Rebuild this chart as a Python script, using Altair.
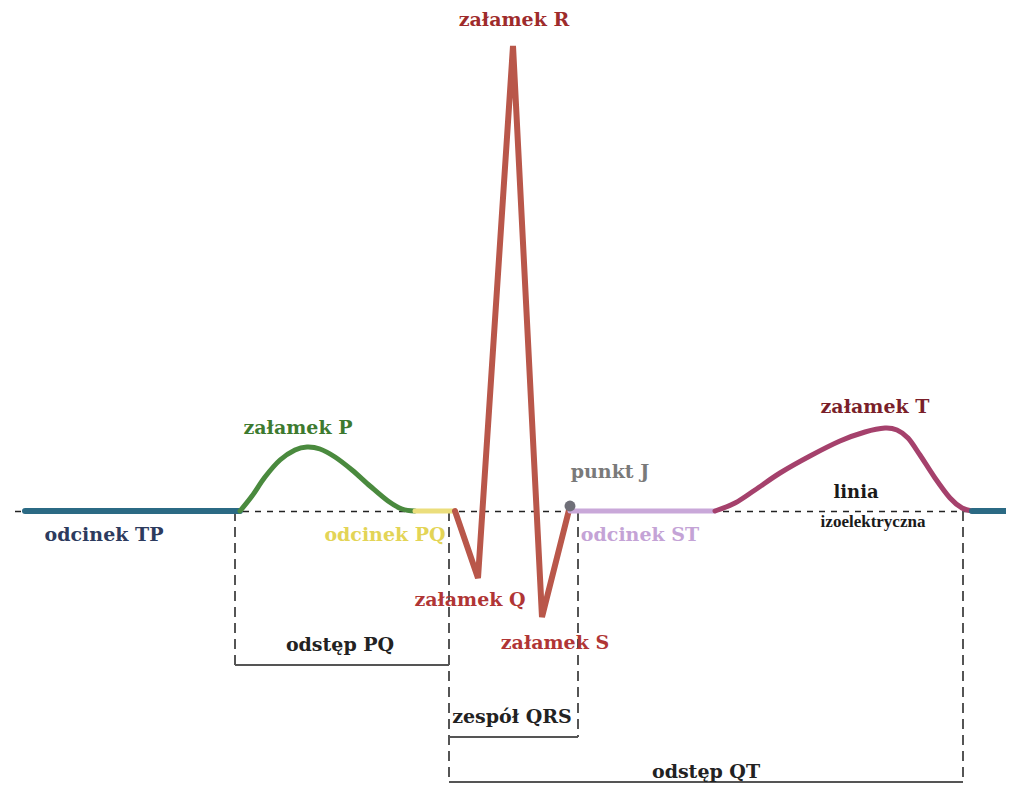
import altair as alt
import pandas as pd

# ---- ECG trace segments (image pixel coordinates, y grows downward) ----
tp1_x = [25, 240]
tp1_y = [511, 511]
p_x = [240, 252, 265, 280, 295, 307, 320, 335, 352, 370, 388, 402, 415]
p_y = [511, 496, 477, 460, 450, 447, 449, 457, 470, 486, 501, 509, 511]
pq_x = [415, 455]
pq_y = [511, 511]
qrs_x = [455, 478, 513, 542, 570]
qrs_y = [511, 578, 46, 617, 506]
st_x = [570, 715]
st_y = [511, 511]
t_x = [715, 735, 755, 780, 810, 840, 865, 885, 897, 908, 920, 935, 950, 962, 972]
t_y = [511, 503, 490, 473, 456, 441, 432, 428, 430, 438, 455, 478, 498, 508, 511]
tp2_x = [972, 1010]
tp2_y = [511, 511]

j_x = [570]
j_y = [506]

# ---- isoelectric line ----
iso_x = [15]
iso_x2 = [1000]
iso_y = [511.5]

# ---- interval brackets ----
vdash_x = [235, 449, 578, 963]
vdash_y = [511, 511, 511, 511]
vdash_y2 = [665, 782, 737, 782]
hline_x = [235, 449, 449]
hline_x2 = [449, 578, 963]
hline_y = [665, 737, 782]

# ---- labels ----
labels = ["załamek R", "załamek P", "odcinek TP", "odcinek PQ", "punkt J",
          "odcinek ST", "załamek Q", "załamek S", "załamek T", "linia",
          "izoelektryczna", "odstęp PQ", "zespół QRS", "odstęp QT"]
label_x = [514, 298, 104, 385, 610, 640, 470, 555, 875, 856, 873, 340, 512, 706]
label_y = [20, 428, 535, 535, 472, 535, 600, 643, 407, 493, 522, 645, 717, 772]
label_color = ["#9e2b2b", "#3d7a2f", "#2d3b5e", "#e3d456", "#7a7a7a",
               "#c4a3d6", "#b03535", "#b03535", "#7a1f2a", "#1a1a1a",
               "#1a1a1a", "#222222", "#222222", "#222222"]
label_size = [19, 19, 19, 19, 19, 19, 19, 19, 19, 18, 17, 19, 19, 19]
label_font = ["DejaVu Serif"] * 10 + ["Liberation Serif"] + ["DejaVu Serif"] * 3

xs = alt.Scale(domain=[8, 1006], nice=False, zero=False)
ys = alt.Scale(domain=[8, 783], nice=False, zero=False, reverse=True)


def seg(xv, yv, color, width, interp="linear", join="round"):
    df = pd.DataFrame({"x": xv, "y": yv, "o": list(range(len(xv)))})
    return alt.Chart(df).mark_line(
        color=color, strokeWidth=width, interpolate=interp,
        strokeCap="round", strokeJoin=join
    ).encode(
        x=alt.X("x:Q", scale=xs, axis=None),
        y=alt.Y("y:Q", scale=ys, axis=None),
        order="o:Q",
    )


iso = alt.Chart(pd.DataFrame({"x": iso_x, "x2": iso_x2, "y": iso_y})).mark_rule(
    color="#222222", strokeWidth=1.6, strokeDash=[6, 6]
).encode(
    x=alt.X("x:Q", scale=xs, axis=None), x2="x2:Q",
    y=alt.Y("y:Q", scale=ys, axis=None),
)

vdash = alt.Chart(pd.DataFrame({"x": vdash_x, "y": vdash_y, "y2": vdash_y2})).mark_rule(
    color="#555555", strokeWidth=2, strokeDash=[10, 6]
).encode(
    x=alt.X("x:Q", scale=xs, axis=None),
    y=alt.Y("y:Q", scale=ys, axis=None), y2="y2:Q",
)

hline = alt.Chart(pd.DataFrame({"x": hline_x, "x2": hline_x2, "y": hline_y})).mark_rule(
    color="#555555", strokeWidth=2
).encode(
    x=alt.X("x:Q", scale=xs, axis=None), x2="x2:Q",
    y=alt.Y("y:Q", scale=ys, axis=None),
)

tp1 = seg(tp1_x, tp1_y, "#2b6a84", 6)
pw = seg(p_x, p_y, "#4a8a3e", 5, "cardinal")
pq = seg(pq_x, pq_y, "#ebde7c", 5)
qrs = seg(qrs_x, qrs_y, "#b9574a", 6, "linear", "miter")
st = seg(st_x, st_y, "#c9a8d9", 5)
tw = seg(t_x, t_y, "#a5416c", 5, "cardinal")
tp2 = seg(tp2_x, tp2_y, "#2b6a84", 6)

jpt = alt.Chart(pd.DataFrame({"x": j_x, "y": j_y})).mark_point(
    filled=True, color="#6f6f78", size=120, opacity=1
).encode(
    x=alt.X("x:Q", scale=xs, axis=None),
    y=alt.Y("y:Q", scale=ys, axis=None),
)

text_df = pd.DataFrame({"label": labels, "x": label_x, "y": label_y,
                        "c": label_color, "s": label_size, "f": label_font})


def text_layer(font):
    return alt.Chart(text_df).transform_filter(
        alt.datum.f == font
    ).mark_text(
        font=font, fontWeight="bold", align="center", baseline="middle"
    ).encode(
        x=alt.X("x:Q", scale=xs, axis=None),
        y=alt.Y("y:Q", scale=ys, axis=None),
        text="label:N",
        color=alt.Color("c:N", scale=None),
        size=alt.Size("s:Q", scale=None),
    )


chart = alt.layer(
    iso, vdash, hline, tp1, pw, pq, qrs, st, tw, tp2, jpt,
    text_layer("DejaVu Serif"), text_layer("Liberation Serif")
).properties(
    width=998, height=775, padding=0, autosize="none", background="white"
).configure_view(strokeWidth=0)

chart.save("out.html", embed_options={"renderer": "svg", "actions": False})
